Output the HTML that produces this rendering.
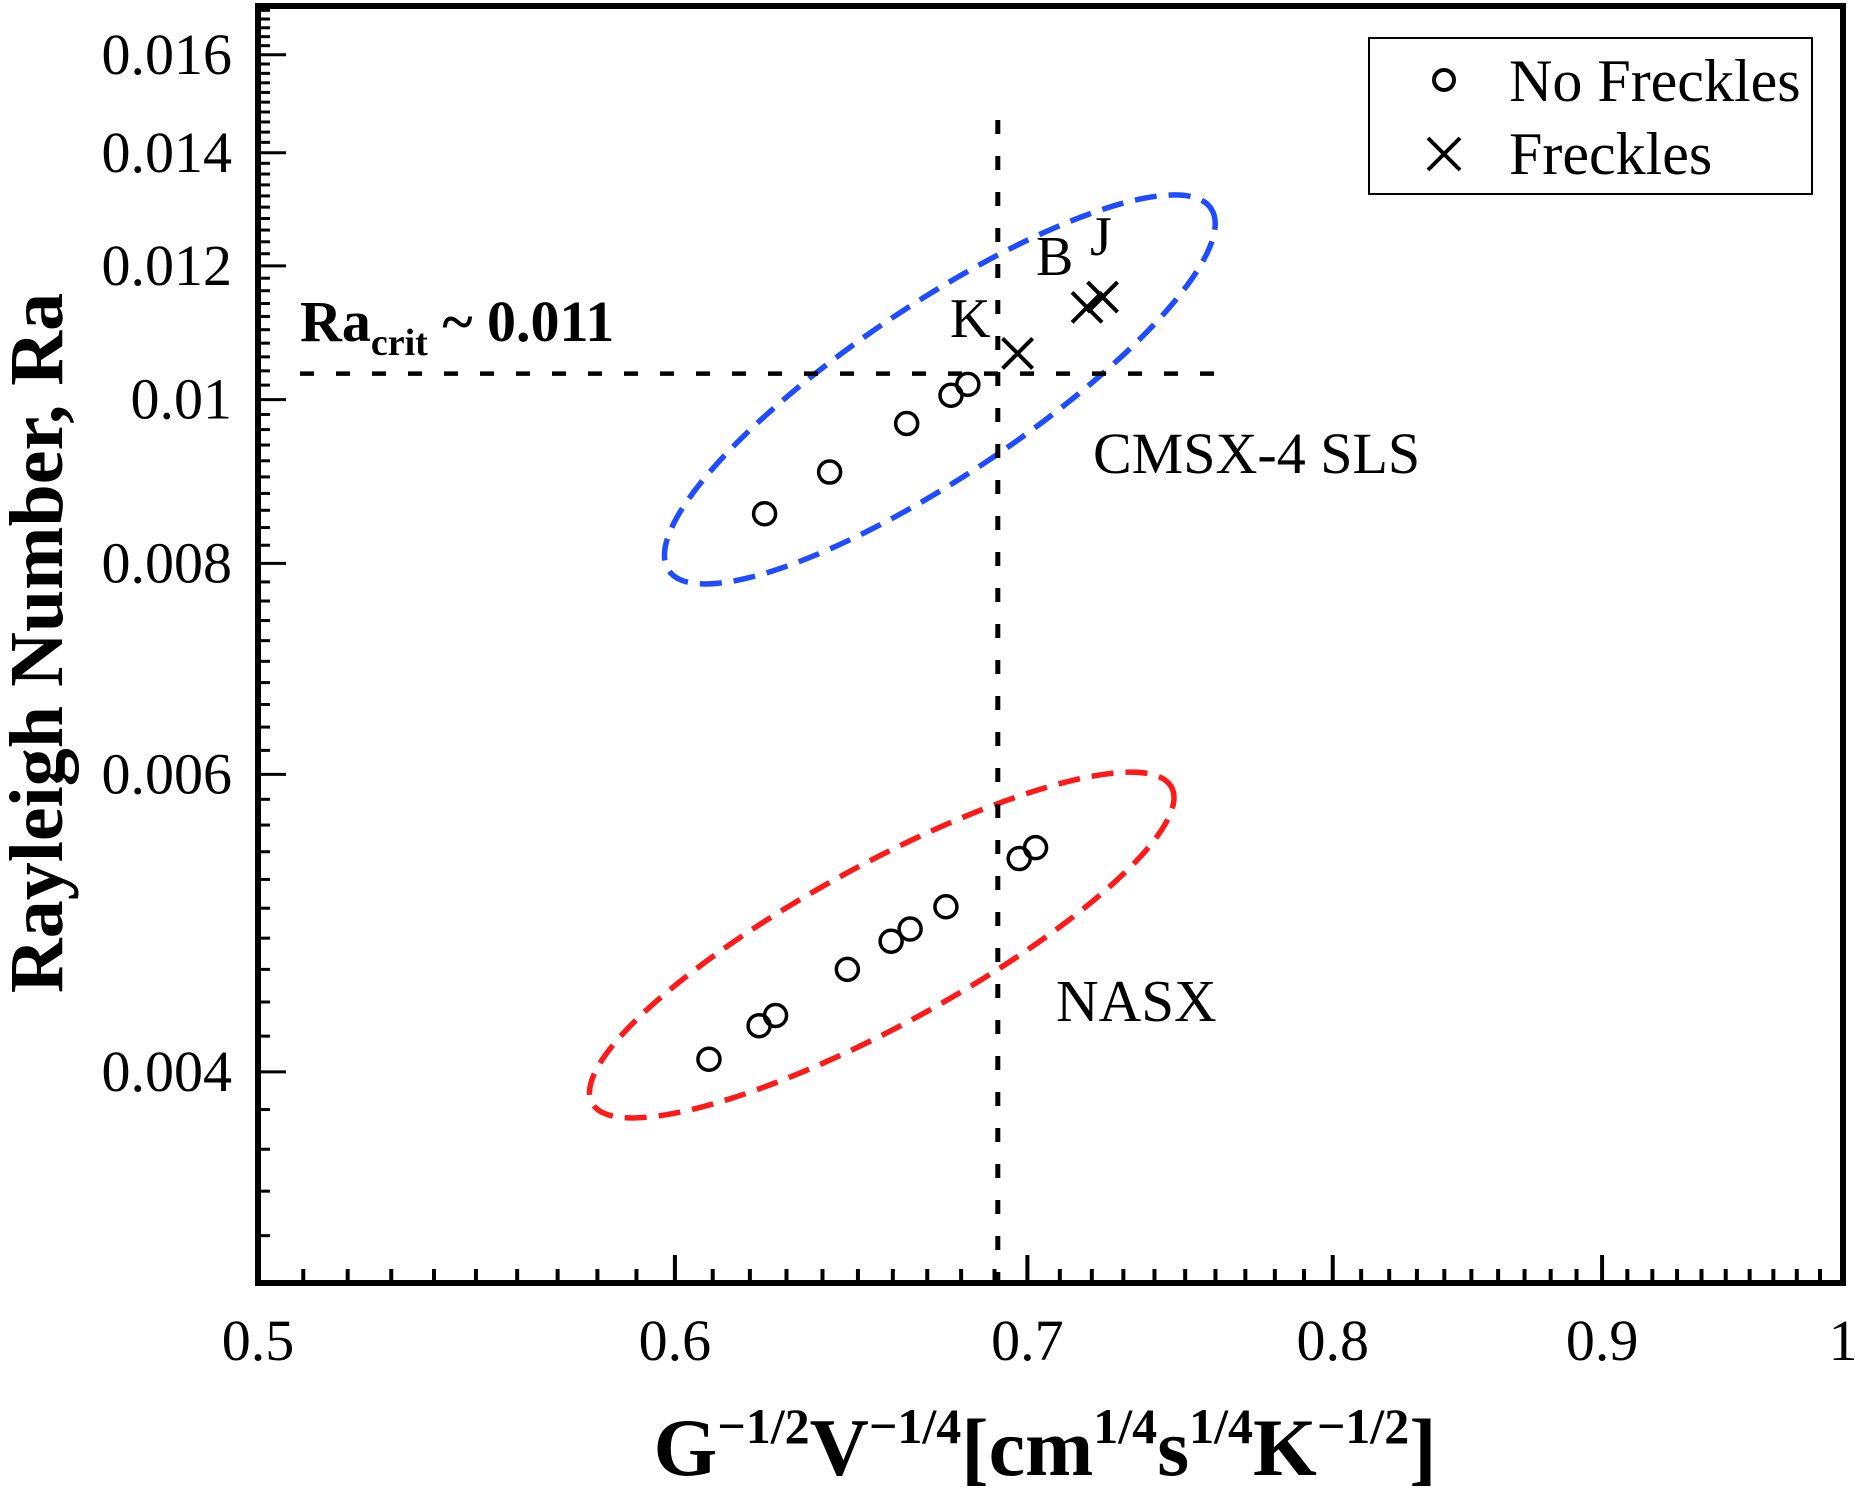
<!DOCTYPE html>
<html><head><meta charset="utf-8"><style>
html,body{margin:0;padding:0;background:#fff}
svg{display:block}
text{font-family:"Liberation Serif",serif;fill:#000}
</style></head><body>
<svg id="chart" width="1855" height="1496" viewBox="0 0 1855 1496" xmlns="http://www.w3.org/2000/svg">
<g id="ellipses"></g>
<g id="guides"></g>
<g id="axes"></g>
<g id="marks"></g>
<g id="labels">
  <text x="300" y="341" font-size="58" font-weight="bold">Ra<tspan font-size="38" dy="14">crit</tspan><tspan dy="-14"> ~ 0.011</tspan></text>
  <text x="950" y="337" font-size="56">K</text>
  <text x="1036" y="275" font-size="56">B</text>
  <text x="1090" y="255" font-size="56">J</text>
  <text x="1093" y="473" font-size="58">CMSX-4 SLS</text>
  <text x="1056" y="1021" font-size="59">NASX</text>
  <text x="1045" y="1475" font-size="82" font-weight="bold" text-anchor="middle">G<tspan font-size="50" dy="-32">−1/2</tspan><tspan dy="32">V</tspan><tspan font-size="50" dy="-32">−1/4</tspan><tspan dy="32">[cm</tspan><tspan font-size="50" dy="-32">1/4</tspan><tspan dy="32">s</tspan><tspan font-size="50" dy="-32">1/4</tspan><tspan dy="32">K</tspan><tspan font-size="50" dy="-32">−1/2</tspan><tspan dy="32">]</tspan></text>
  <text transform="translate(62,643) rotate(-90)" font-size="76" font-weight="bold" text-anchor="middle">Rayleigh Number, Ra</text>
</g>
<g id="legend">
  <rect x="1369" y="38" width="443" height="156" fill="#fff" stroke="#000" stroke-width="2"/>
  <circle cx="1444" cy="80" r="10" fill="none" stroke="#000" stroke-width="4"/>
  <text x="1509" y="101" font-size="60">No Freckles</text>
  <path d="M1428 138L1460 170M1460 138L1428 170" stroke="#000" stroke-width="4"/>
  <text x="1509" y="174" font-size="60">Freckles</text>
</g>
</svg>
<script>
const xTicks=[0.5,0.6,0.7,0.8,0.9,1];
const xTickLabels=["0.5","0.6","0.7","0.8","0.9","1"];
const yTicks=[0.004,0.006,0.008,0.01,0.012,0.014,0.016];
const yTickLabels=["0.004","0.006","0.008","0.01","0.012","0.014","0.016"];
const cmsxX=[0.624,0.642,0.664,0.677,0.682];
const cmsxY=[0.00856,0.00906,0.00968,0.01006,0.01021];
const freckX=[0.697,0.7185,0.7234];
const freckY=[0.01065,0.01134,0.0115];
const nasxX=[0.609,0.6225,0.627,0.647,0.6595,0.665,0.6755,0.6975,0.7025];
const nasxY=[0.00407,0.00426,0.00432,0.0046,0.00478,0.00486,0.00501,0.00535,0.00543];
const raCrit=0.01036;
const xCrit=0.691;
const ellipseCx=[0.6737,0.6568];
const ellipseCy=[0.01014,0.004755];

const L=258,R=1843,T=6,B=1283;
const X0=0.5,X1=1.0,Y0=0.003,Y1=0.0171;
const kx=(R-L)/Math.log(X1/X0), ky=(B-T)/Math.log(Y1/Y0);
function sx(v){return L+kx*Math.log(v/X0);}
function sy(v){return B-ky*Math.log(v/Y0);}
const NS="http://www.w3.org/2000/svg";
function mk(tag,attrs,parent){const e=document.createElementNS(NS,tag);for(const k in attrs)e.setAttribute(k,attrs[k]);parent.appendChild(e);return e;}

const eg=document.getElementById('ellipses');
const eStyle=[{rx:326,ry:86,ang:-33.7,c:'#1f4cff'},{rx:330,ry:80,ang:-28.6,c:'#ff1a1a'}];
for(let i=0;i<2;i++){
  const cx=sx(ellipseCx[i]),cy=sy(ellipseCy[i]);
  const e=mk('ellipse',{cx:cx,cy:cy,rx:eStyle[i].rx,ry:eStyle[i].ry,transform:`rotate(${eStyle[i].ang} ${cx} ${cy})`,fill:'none',stroke:eStyle[i].c,'stroke-width':5.5,'stroke-dasharray':'22 12'},eg);
  
  
}
const gg=document.getElementById('guides');
const h=mk('line',{x1:300,x2:1232,y1:sy(raCrit),y2:sy(raCrit),stroke:'#000','stroke-width':4.5,'stroke-dasharray':'14 22'},gg);


const v=mk('line',{x1:sx(xCrit),x2:sx(xCrit),y1:120,y2:B,stroke:'#000','stroke-width':5,'stroke-dasharray':'14 22'},gg);



const ag=document.getElementById('axes');
const fr=mk('rect',{x:L,y:T,width:R-L,height:B-T,fill:'none',stroke:'#000','stroke-width':6},ag);


for(let v=0.51;v<1.0;v+=0.01){
  const x=sx(v);
  const major=Math.abs(v*10-Math.round(v*10))<1e-6;
  const t=mk('line',{x1:x,x2:x,y1:B,y2:B-(major?28:14),stroke:'#000','stroke-width':4},ag);
  
  
}
xTicks.forEach((v,i)=>{
  const t=mk('text',{x:sx(v),y:1360,'font-size':58,'text-anchor':'middle'},ag);
  t.textContent=xTickLabels[i];
  
  
});
for(let k=16;k<=170;k+=2){
  const v=k/10000;
  if(v<Y0||v>Y1)continue;
  const y=sy(v);
  const major=(k%20==0)&&k>=40;
  const t=mk('line',{x1:L,x2:L+(major?28:12),y1:y,y2:y,stroke:'#000','stroke-width':3},ag);
  
  
}
yTicks.forEach((v,i)=>{
  const t=mk('text',{x:232,y:sy(v)+19,'font-size':58,'text-anchor':'end'},ag);
  t.textContent=yTickLabels[i];
  
  
});

const mg=document.getElementById('marks');
function circ(xv,yv,name){
  const c=mk('circle',{cx:sx(xv),cy:sy(yv),r:11,fill:'none',stroke:'#000','stroke-width':3.5},mg);
  
  
}
cmsxX.forEach((v,i)=>circ(v,cmsxY[i],'cmsx-point'));
nasxX.forEach((v,i)=>circ(v,nasxY[i],'nasx-point'));
freckX.forEach((v,i)=>{
  const x=sx(v),y=sy(freckY[i]),s=15;
  const p=mk('path',{d:`M${x-s} ${y-s}L${x+s} ${y+s}M${x+s} ${y-s}L${x-s} ${y+s}`,stroke:'#000','stroke-width':4},mg);
  
  
});
</script>
</body></html>
